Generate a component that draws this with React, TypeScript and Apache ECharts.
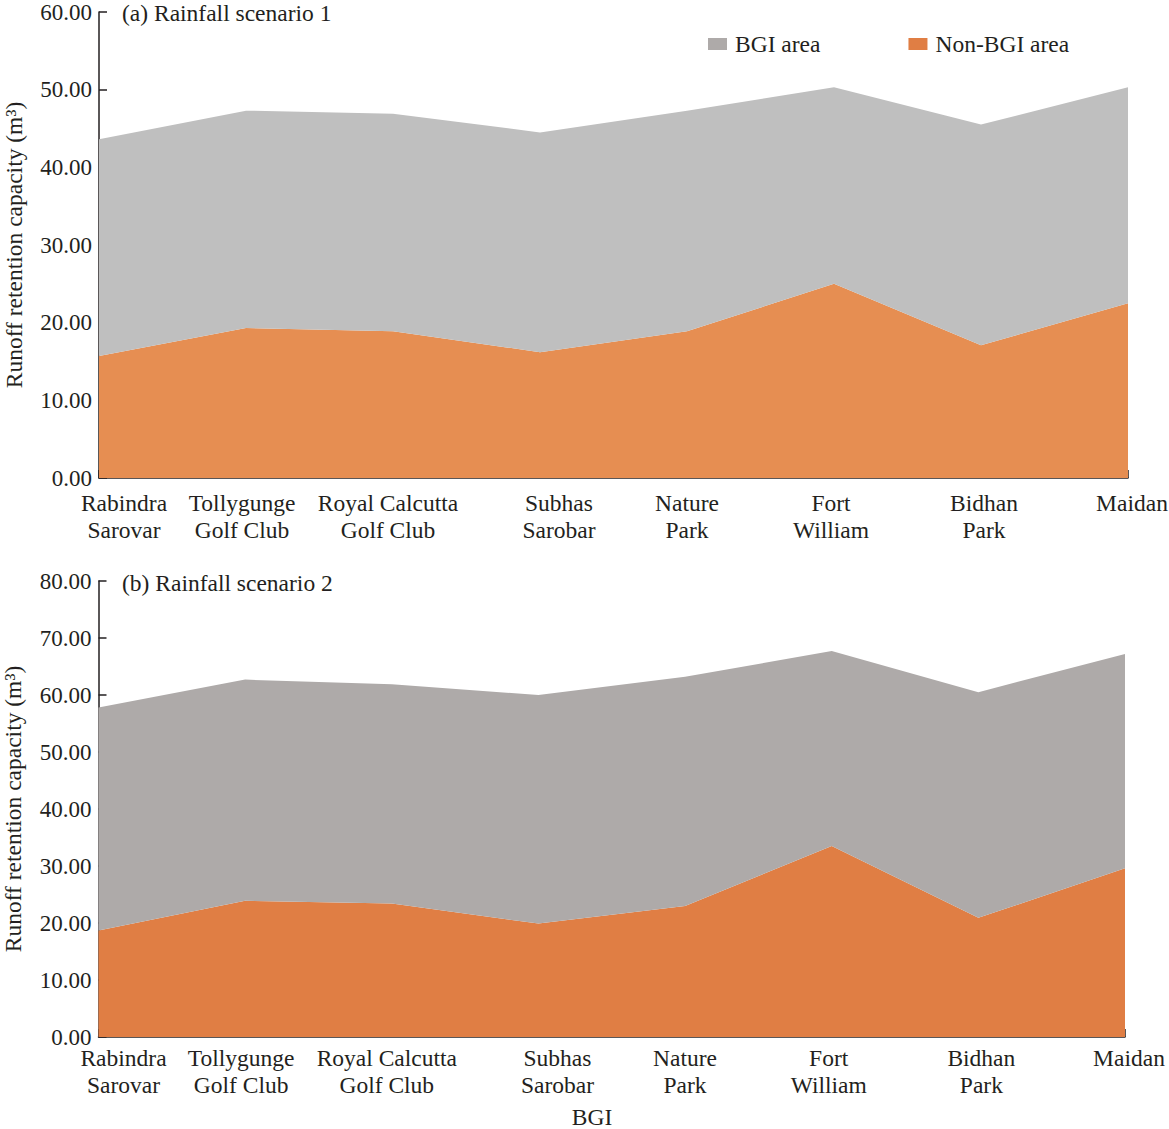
import React, { useEffect, useRef } from "react";
import * as echarts from "echarts";

const categories = [
  "Rabindra\nSarovar",
  "Tollygunge\nGolf Club",
  "Royal Calcutta\nGolf Club",
  "Subhas\nSarobar",
  "Nature\nPark",
  "Fort\nWilliam",
  "Bidhan\nPark",
  "Maidan",
];

// Rainfall scenario 1 (m³)
const s1NonBGI = [15.7, 19.3, 18.9, 16.2, 18.9, 25.0, 17.1, 22.5];
const s1BGI = [27.9, 28.0, 28.0, 28.3, 28.4, 25.3, 28.4, 27.8];

// Rainfall scenario 2 (m³)
const s2NonBGI = [18.7, 23.9, 23.4, 19.9, 23.0, 33.5, 20.9, 29.6];
const s2BGI = [39.1, 38.8, 38.5, 40.1, 40.2, 34.2, 39.6, 37.6];

const seriesNames = ["BGI area", "Non-BGI area"];
const panelTitles = ["(a) Rainfall scenario 1", "(b) Rainfall scenario 2"];
const yAxisName = "Runoff retention capacity (m³)";
const xAxisName = "BGI";

const FONT = "'Liberation Serif', 'Times New Roman', serif";
const INK = "#231f20";
const labelShift = [25, -4, -5, 19, 0, -3, 3, 4];

export default function App() {
  const ref = useRef<HTMLDivElement>(null);

  useEffect(() => {
    if (!ref.current) return;
    const chart = echarts.init(ref.current, undefined, { renderer: "svg" });

    const rich: Record<string, any> = {};
    labelShift.forEach((s, i) => {
      rich["s" + i] = {
        fontFamily: FONT,
        fontSize: 23.5,
        color: INK,
        lineHeight: 26.5,
        padding: [0, s < 0 ? -2 * s : 0, 0, s > 0 ? 2 * s : 0],
      };
    });

    const xAxisBase = (gridIndex: number, margin: number) => ({
      type: "category",
      gridIndex,
      data: categories,
      boundaryGap: false,
      axisLine: { lineStyle: { color: INK, width: 1.5 } },
      axisTick: { show: true, inside: true, length: 8, lineStyle: { color: INK, width: 1.5 } },
      axisLabel: {
        interval: 0,
        margin,
        fontFamily: FONT,
        fontSize: 23.5,
        color: INK,
        lineHeight: 26.5,
        formatter: (value: string, index: number) =>
          value
            .split("\n")
            .map((l) => `{s${index}|${l}}`)
            .join("\n"),
        rich,
      },
      splitLine: { show: false },
    });

    const yAxisBase = (gridIndex: number, max: number) => ({
      type: "value",
      gridIndex,
      min: 0,
      max,
      interval: 10,
      name: yAxisName,
      nameLocation: "middle",
      nameGap: 74,
      nameTextStyle: { fontFamily: FONT, fontSize: 23.5, color: INK, lineHeight: 23 },
      axisLine: { show: true, lineStyle: { color: INK, width: 1.5 } },
      axisTick: { show: true, inside: true, length: 8, lineStyle: { color: INK, width: 1.5 } },
      axisLabel: {
        margin: 7,
        fontFamily: FONT,
        fontSize: 23,
        color: INK,
        formatter: (v: number) => v.toFixed(2),
      },
      splitLine: { show: false },
    });

    const areaSeries = (
      name: string,
      data: number[],
      color: string,
      stack: string,
      axisIndex: number
    ) => ({
      name,
      type: "line",
      stack,
      xAxisIndex: axisIndex,
      yAxisIndex: axisIndex,
      data,
      color,
      symbol: "none",
      showSymbol: false,
      smooth: false,
      lineStyle: { width: 0, color },
      areaStyle: { color, opacity: 1 },
      emphasis: { disabled: true },
    });

    chart.setOption({
      animation: false,
      backgroundColor: "#ffffff",
      textStyle: { fontFamily: FONT },
      title: [
        {
          text: panelTitles[0],
          left: 122,
          top: 1,
          padding: 0,
          textStyle: { fontFamily: FONT, fontSize: 23.5, fontWeight: "normal", color: INK },
        },
        {
          text: panelTitles[1],
          left: 122,
          top: 571,
          padding: 0,
          textStyle: { fontFamily: FONT, fontSize: 23.5, fontWeight: "normal", color: INK },
        },
      ],
      legend: {
        left: 708,
        top: 32,
        padding: 0,
        itemWidth: 19,
        itemHeight: 12,
        itemGap: 88,
        icon: "rect",
        textStyle: {
          fontFamily: FONT,
          fontSize: 23.5,
          color: INK,
          lineHeight: 24,
          padding: [0, 0, 0, 3],
        },
        data: [
          { name: seriesNames[0], itemStyle: { color: "#aeaaa9" } },
          { name: seriesNames[1], itemStyle: { color: "#e07e44" } },
        ],
      },
      grid: [
        { left: 99, right: 41, top: 12, bottom: 651, containLabel: false, outerBoundsMode: "none" },
        { left: 98.5, right: 44, top: 581, bottom: 92, containLabel: false, outerBoundsMode: "none" },
      ],
      xAxis: [xAxisBase(0, 12), xAxisBase(1, 8)],
      yAxis: [yAxisBase(0, 60), yAxisBase(1, 80)],
      series: [
        areaSeries(seriesNames[1], s1NonBGI, "#e68e52", "a", 0),
        areaSeries(seriesNames[0], s1BGI, "#bfbfbf", "a", 0),
        areaSeries(seriesNames[1], s2NonBGI, "#e07e44", "b", 1),
        areaSeries(seriesNames[0], s2BGI, "#aeaaa9", "b", 1),
      ],
      graphic: [
        {
          type: "text",
          x: 592,
          y: 1117,
          style: {
            text: xAxisName,
            fontFamily: FONT,
            fontSize: 23.5,
            fill: INK,
            align: "center",
            verticalAlign: "middle",
          },
        },
      ],
    });

    return () => chart.dispose();
  }, []);

  return (
    <div
      ref={ref}
      style={{ position: "fixed", left: 0, top: 0, width: 1169, height: 1129 }}
    />
  );
}
